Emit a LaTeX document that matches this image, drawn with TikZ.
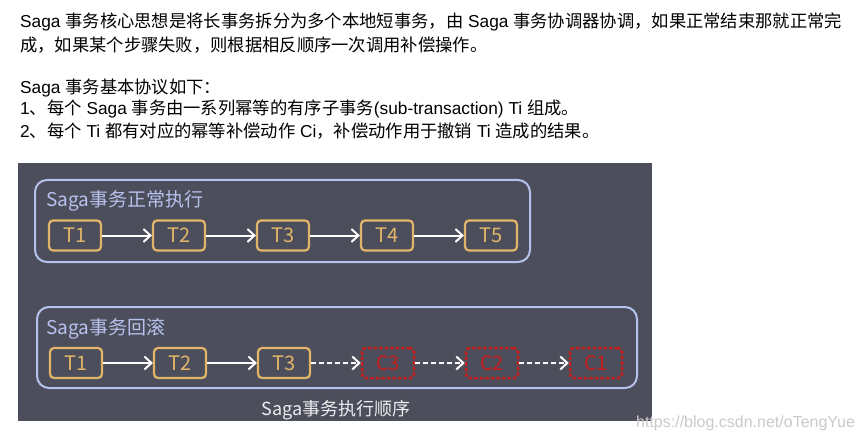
\documentclass[tikz,border=0pt]{standalone}
\usepackage{fontspec}
\setmainfont{Liberation Sans}
\newfontfamily\cjk{Noto Sans CJK SC}
\newcommand{\C}[1]{{\cjk #1}}
\usetikzlibrary{arrows.meta}
\definecolor{bgdark}{HTML}{4C4E5B}
\definecolor{frame}{HTML}{B4C3EC}
\definecolor{titlec}{HTML}{B8C1EE}
\definecolor{tan}{HTML}{E2B56A}
\definecolor{redc}{HTML}{C81F1E}
\definecolor{capc}{HTML}{EDEDF0}
\definecolor{wmark}{HTML}{CACACA}
\tikzset{
  bodytext/.style={anchor=west, inner sep=0pt, font=\fontsize{17.3}{20}\selectfont, text=black},
  group/.style={draw=frame, line width=2pt, rounded corners=12pt},
  grouptitle/.style={anchor=west, inner sep=0pt, text=titlec, font=\cjk\fontsize{19}{22}\selectfont},
  tbox/.style={draw=tan, line width=2.2pt, rounded corners=4pt, minimum width=52pt, minimum height=30pt, inner sep=0pt, text=tan, font=\cjk\fontsize{20}{22}\selectfont},
  cbox/.style={draw=redc, line width=2.5pt, dash pattern=on 3.5pt off 2pt, rounded corners=4pt, minimum width=52pt, minimum height=30pt, inner sep=0pt, text=redc, font=\cjk\fontsize{20}{22}\selectfont},
  flow/.style={draw=white, line width=2pt, -{Straight Barb[length=7pt,width=13pt,line width=2pt]}},
  dflow/.style={flow, dash pattern=on 5pt off 3pt},
}
\begin{document}
\begin{tikzpicture}[x=1pt,y=-1pt]
\useasboundingbox[fill=white] (0,0) rectangle (865,441);
% text block
\node[bodytext] (l1) at (20,22) {Saga \C{事务核心思想是将长事务拆分为多个本地短事务，由} Saga \C{事务协调器协调，如果正常结束那就正常完}};
\node[bodytext] (l2) at (20,45) {\C{成，如果某个步骤失败，则根据相反顺序一次调用补偿操作。}};
\node[bodytext] (l3) at (20,88) {Saga \C{事务基本协议如下：}};
\node[bodytext] (l4) at (20,109) {1\C{、每个} Saga \C{事务由一系列幂等的有序子事务}(sub-transaction) Ti \C{组成。}};
\node[bodytext] (l5) at (20,131) {2\C{、每个} Ti \C{都有对应的幂等补偿动作} Ci\C{，补偿动作用于撤销} Ti \C{造成的结果。}};
% dark panel
\fill[bgdark] (18,163) rectangle (652,421);
% upper group
\draw[group] (35,180) rectangle (530,262);
\node[grouptitle] (g1t) at (46,201) {Saga事务正常执行};
\node[tbox] (a1) at (75,235.5) {T1};
\node[tbox] (a2) at (179,235.5) {T2};
\node[tbox] (a3) at (283,235.5) {T3};
\node[tbox] (a4) at (387,235.5) {T4};
\node[tbox] (a5) at (491,235.5) {T5};
\draw[flow] (a1) -- (a2);
\draw[flow] (a2) -- (a3);
\draw[flow] (a3) -- (a4);
\draw[flow] (a4) -- (a5);
% lower group
\draw[group] (37,307) rectangle (637,388);
\node[grouptitle] (g2t) at (46,329) {Saga事务回滚};
\node[tbox] (b1) at (76,363) {T1};
\node[tbox] (b2) at (180,363) {T2};
\node[tbox] (b3) at (284,363) {T3};
\node[cbox] (c3) at (388,363) {C3};
\node[cbox] (c2) at (492,363) {C2};
\node[cbox] (c1) at (596,363) {C1};
\draw[flow] (b1) -- (b2);
\draw[flow] (b2) -- (b3);
\draw[dflow] (b3) -- (c3);
\draw[dflow] (c3) -- (c2);
\draw[dflow] (c2) -- (c1);
% caption
\node[inner sep=0pt, text=capc, font=\cjk\fontsize{18}{21}\selectfont] (cap) at (336,410) {Saga事务执行顺序};
% watermark
\node[anchor=west, inner sep=0pt, text=wmark, font=\fontsize{16}{19}\selectfont] (wm) at (636,423) {https://blog.csdn.net/oTengYue};
\end{tikzpicture}
\end{document}
